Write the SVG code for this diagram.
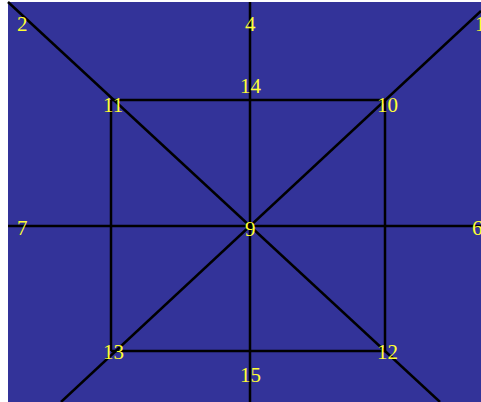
<svg xmlns="http://www.w3.org/2000/svg" width="481" height="402" viewBox="0 0 481 402">
<style>
.bg{fill:#333399}
.e{stroke:#000;stroke-width:2.5;fill:none}
.l{font-family:"Liberation Serif","DejaVu Serif",serif;font-size:21px;fill:#ffff33}
</style>
<rect width="481" height="402" fill="#fff"/>
<rect class="bg" x="8" y="2" width="473" height="400"/>
<g id="connectors">
<line class="e" x1="250" y1="2" x2="250" y2="402"/>
<line class="e" x1="8" y1="226" x2="481" y2="226"/>
<line class="e" x1="8" y1="2" x2="440" y2="402"/>
<line class="e" x1="481" y1="11" x2="61" y2="402"/>
<line class="e" x1="111" y1="100" x2="385" y2="100"/>
<line class="e" x1="111" y1="351" x2="385" y2="351"/>
<line class="e" x1="111" y1="100" x2="111" y2="351"/>
<line class="e" x1="385" y1="100" x2="385" y2="351"/>
</g>
<g id="n2"><text class="l" x="17" y="31">2</text></g>
<g id="n4"><text class="l" x="245" y="31">4</text></g>
<g id="n1"><text class="l" x="475" y="31">1</text></g>
<g id="n11"><text class="l" x="103" y="112">11</text></g>
<g id="n14"><text class="l" x="240" y="93">14</text></g>
<g id="n10"><text class="l" x="377" y="112">10</text></g>
<g id="n7"><text class="l" x="17" y="235">7</text></g>
<g id="n9"><text class="l" x="245" y="236">9</text></g>
<g id="n6"><text class="l" x="472" y="235">6</text></g>
<g id="n13"><text class="l" x="103" y="359">13</text></g>
<g id="n12"><text class="l" x="377" y="359">12</text></g>
<g id="n15"><text class="l" x="240" y="382">15</text></g>
</svg>
